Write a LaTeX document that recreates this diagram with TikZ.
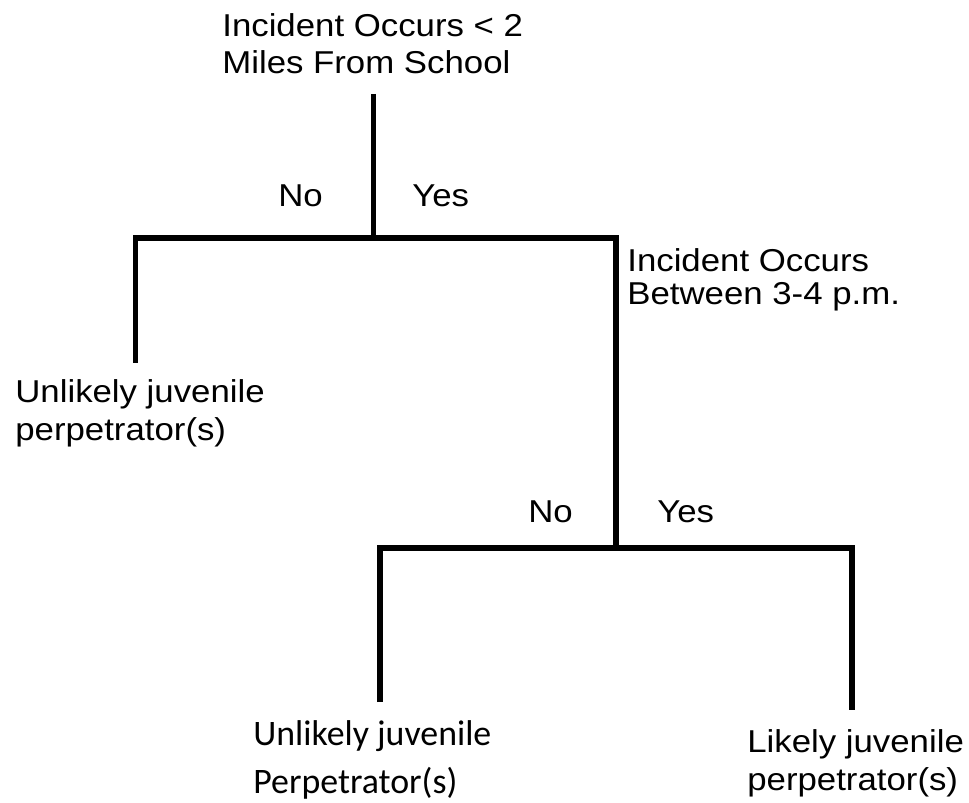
\documentclass[tikz,border=0pt]{standalone}
\usepackage{fontspec}
\setmainfont{Liberation Sans}[FakeStretch=1.1]
\newfontfamily\calib{Carlito}
\begin{document}
\begin{tikzpicture}[x=0.02cm,y=-0.02cm,
  branch/.style={line width=3.4pt},
  lbl/.style={inner sep=0,anchor=base west,align=left,font=\fontsize{18}{21.5}\selectfont}]
  \useasboundingbox (0,0) rectangle (969,803);
  % first split
  \coordinate (root) at (373.5,94);
  \coordinate (j1) at (373.5,238);
  \coordinate (l1) at (135.5,238);
  \coordinate (l1end) at (135.5,363);
  \coordinate (r1) at (616,238);
  % second split
  \coordinate (j2) at (616,548);
  \coordinate (l2) at (380,548);
  \coordinate (l2end) at (380,702);
  \coordinate (r2) at (852,548);
  \coordinate (r2end) at (852,710);

  \draw[branch] (root) -- (j1);
  \draw[branch] (l1end) -- (l1) -- (r1) -- (j2);
  \draw[branch] (l2end) -- (l2) -- (r2) -- (r2end);

  % anchors sit on the last line
  \node[lbl] (q1) at (222,74) {Incident Occurs < 2\\Miles From School};
  \node[lbl] (no1) at (278,207) {No};
  \node[lbl] (yes1) at (412,207) {Yes};
  \node[lbl,font=\fontsize{18}{19}\selectfont] (q2) at (627,305) {Incident Occurs\\Between 3-4 p.m.};
  \node[lbl] (out1) at (15,440) {Unlikely juvenile\\perpetrator(s)};
  \node[lbl] (no2) at (528,522) {No};
  \node[lbl] (yes2) at (657,522) {Yes};
  \node[lbl,font=\calib\fontsize{20.4}{27}\selectfont] (out2) at (253,793) {Unlikely juvenile\\Perpetrator(s)};
  \node[lbl] (out3) at (747,790) {Likely juvenile\\perpetrator(s)};
\end{tikzpicture}
\end{document}
